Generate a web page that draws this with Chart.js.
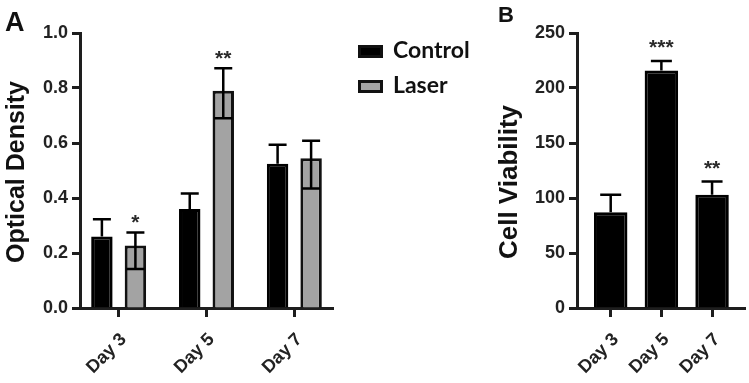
<!DOCTYPE html>
<html>
<head>
<meta charset="utf-8">
<script src="https://cdn.jsdelivr.net/npm/chart.js@4.4.1/dist/chart.umd.min.js"></script>
<style>
  html, body { margin:0; padding:0; background:#fff; }
  body { width:749px; height:383px; position:relative; overflow:hidden; }
  .panel { position:absolute; top:0; height:383px; }
  #wrapA { left:0; width:345px; }
  #wrapB { left:480px; width:269px; }
  .letter { position:absolute; font-family:"Liberation Sans", Arial, sans-serif; font-weight:bold; line-height:1; color:#111; }
  .lg-box { position:absolute; box-sizing:border-box; border:3px solid #111; }
  .lg-text { position:absolute; font-family:Lato, "Open Sans", sans-serif; font-weight:bold; font-size:23px; line-height:23px; color:#111; white-space:nowrap; }
</style>
</head>
<body>
<div class="panel" id="wrapA"><canvas id="cA" width="345" height="383"></canvas></div>
<div class="panel" id="wrapB"><canvas id="cB" width="269" height="383"></canvas></div>
<div class="letter" style="left:5px;top:9px;font-size:27px;">A</div>
<div class="letter" style="left:498px;top:4px;font-size:22px;">B</div>
<div id="legend"></div>
<script>
// ---------- data ----------
const categories = ['Day 3', 'Day 5', 'Day 7'];
const seriesNames = ['Control', 'Laser'];

// Panel A: Optical Density
const odControl = [0.26, 0.36, 0.525];
const odControlErr = [0.063, 0.056, 0.069];
const odLaser = [0.227, 0.79, 0.545];
const odLaserErrUp = [0.048, 0.082, 0.063];
const odLaserErrDown = [0.085, 0.10, 0.11];
const odSigControl = ['', '', ''];
const odSigLaser = ['*', '**', ''];
const yTicksA = [0, 0.2, 0.4, 0.6, 0.8, 1.0];

// Panel B: Cell Viability
const viability = [87, 216, 103];
const viabilityErr = [16, 8.5, 12];
const viabilitySig = ['', '***', '**'];
const yTicksB = [0, 50, 100, 150, 200, 250];

// ---------- styling ----------
const AXIS = '#1e1e1e';
const TXT = '#222';
const tickFont = { family: '"Liberation Sans", Arial, sans-serif', size: 18, weight: 'bold' };
const seriesFill = ['#000000', '#a3a3a3'];

const errorBarPlugin = {
  id: 'errorBars',
  afterDatasetsDraw(chart, args, o) {
    const ctx = chart.ctx;
    const ys = chart.scales.y;
    chart.data.datasets.forEach((ds, di) => {
      const meta = chart.getDatasetMeta(di);
      meta.data.forEach((bar, i) => {
        const v = ds.data[i].y;
        const yt = ys.getPixelForValue(v + ds.errUp[i]);
        const yb = ys.getPixelForValue(v - ds.errDown[i]);
        const y0 = ds.showLower ? yb : bar.y;
        const hw = o.capWidth / 2;
        ctx.save();
        ctx.strokeStyle = '#000';
        ctx.lineWidth = o.lineWidth;
        ctx.beginPath();
        ctx.moveTo(bar.x, y0); ctx.lineTo(bar.x, yt);
        ctx.moveTo(bar.x - hw, yt); ctx.lineTo(bar.x + hw, yt);
        if (ds.showLower) { ctx.moveTo(bar.x - hw, yb); ctx.lineTo(bar.x + hw, yb); }
        ctx.stroke();
        const s = ds.sig[i];
        if (s) {
          ctx.fillStyle = '#2a2a2a';
          ctx.font = o.sigFont;
          ctx.textAlign = 'center';
          ctx.textBaseline = 'alphabetic';
          ctx.fillText(s, bar.x, yt - o.sigGap);
        }
        ctx.restore();
      });
    });
  }
};

const yTitlePlugin = {
  id: 'yTitle',
  afterDraw(chart, args, o) {
    const ctx = chart.ctx;
    ctx.save();
    ctx.translate(o.x, o.y);
    ctx.rotate(-Math.PI / 2);
    ctx.font = o.font;
    ctx.fillStyle = o.color;
    ctx.textAlign = 'center';
    ctx.textBaseline = 'alphabetic';
    ctx.fillText(o.text, 0, 0);
    ctx.restore();
  }
};

function xScale(min, max) {
  return {
    type: 'linear', min: min, max: max, offset: false,
    afterBuildTicks: s => { s.ticks = categories.map((c, i) => ({ value: i })); },
    afterFit: s => { s.height = 75; },
    ticks: { autoSkip: false, minRotation: 45, maxRotation: 45, padding: 12, labelOffset: 5,
             callback: v => categories[v], font: tickFont, color: TXT },
    grid: { display: true, drawOnChartArea: false, drawTicks: true, tickLength: 9,
            tickWidth: 3, tickColor: AXIS, offset: false },
    border: { display: true, width: 3, color: AXIS }
  };
}
function yScale(max, ticksArr, width, fmt) {
  return {
    min: 0, max: max,
    afterBuildTicks: s => { s.ticks = ticksArr.map(v => ({ value: v })); },
    afterFit: s => { s.width = width; },
    ticks: { padding: 4, font: tickFont, color: TXT, callback: fmt },
    grid: { display: true, drawOnChartArea: false, drawTicks: true, tickLength: 8,
            tickWidth: 3, tickColor: AXIS },
    border: { display: true, width: 3, color: AXIS }
  };
}

// ---------- Panel A ----------
new Chart(document.getElementById('cA'), {
  type: 'bar',
  data: {
    datasets: [
      { label: seriesNames[0], data: categories.map((c, i) => ({ x: i, y: odControl[i] })),
        backgroundColor: seriesFill[0], borderColor: '#000', borderWidth: 3,
        errUp: odControlErr, errDown: odControlErr, sig: odSigControl, showLower: false },
      { label: seriesNames[1], data: categories.map((c, i) => ({ x: i, y: odLaser[i] })),
        backgroundColor: seriesFill[1], borderColor: '#111', borderWidth: 3,
        errUp: odLaserErrUp, errDown: odLaserErrDown, sig: odSigLaser, showLower: true }
    ]
  },
  options: {
    responsive: false, animation: false, events: [],
    categoryPercentage: 0.763, barPercentage: 0.64,
    layout: { padding: { top: 33, right: 12, bottom: 0, left: 0 } },
    plugins: {
      legend: { display: false }, tooltip: { enabled: false },
      errorBars: { capWidth: 18, lineWidth: 2.5, sigFont: 'bold 21px "Liberation Sans", Arial, sans-serif', sigGap: 3 },
      yTitle: { text: 'Optical Density', x: 24, y: 172, color: '#111',
                font: 'bold 25px "Liberation Sans", Arial, sans-serif' }
    },
    scales: {
      x: xScale(-0.44, 2.44),
      y: yScale(1.0, yTicksA, 80, v => v.toFixed(1))
    }
  },
  plugins: [errorBarPlugin, yTitlePlugin]
});

// ---------- Panel B ----------
new Chart(document.getElementById('cB'), {
  type: 'bar',
  data: {
    datasets: [
      { label: 'Cell Viability', data: categories.map((c, i) => ({ x: i, y: viability[i] })),
        backgroundColor: '#000', borderColor: '#000', borderWidth: 3,
        errUp: viabilityErr, errDown: viabilityErr, sig: viabilitySig, showLower: false }
    ]
  },
  options: {
    responsive: false, animation: false, events: [],
    categoryPercentage: 0.8, barPercentage: 0.826,
    layout: { padding: { top: 33, right: 4, bottom: 0, left: 0 } },
    plugins: {
      legend: { display: false }, tooltip: { enabled: false },
      errorBars: { capWidth: 21, lineWidth: 2.5, sigFont: 'bold 21px "Liberation Sans", Arial, sans-serif', sigGap: 7 },
      yTitle: { text: 'Cell Viability', x: 37, y: 182, color: '#111',
                font: 'bold 26px "Liberation Sans", Arial, sans-serif' }
    },
    scales: {
      x: xScale(-0.665, 2.65),
      y: yScale(250, yTicksB, 97, v => String(v))
    }
  },
  plugins: [errorBarPlugin, yTitlePlugin]
});

// ---------- Legend (from series names) ----------
const legend = document.getElementById('legend');
const legendTops = [45, 80];
seriesNames.forEach((name, i) => {
  const box = document.createElement('div');
  box.className = 'lg-box';
  box.style.left = '358px'; box.style.top = legendTops[i] + 'px';
  box.style.width = '25px'; box.style.height = '13px';
  box.style.background = seriesFill[i];
  legend.appendChild(box);
  const t = document.createElement('div');
  t.className = 'lg-text';
  t.style.left = '393px'; t.style.top = (legendTops[i] - 7) + 'px';
  t.textContent = name;
  legend.appendChild(t);
});
</script>
</body>
</html>
